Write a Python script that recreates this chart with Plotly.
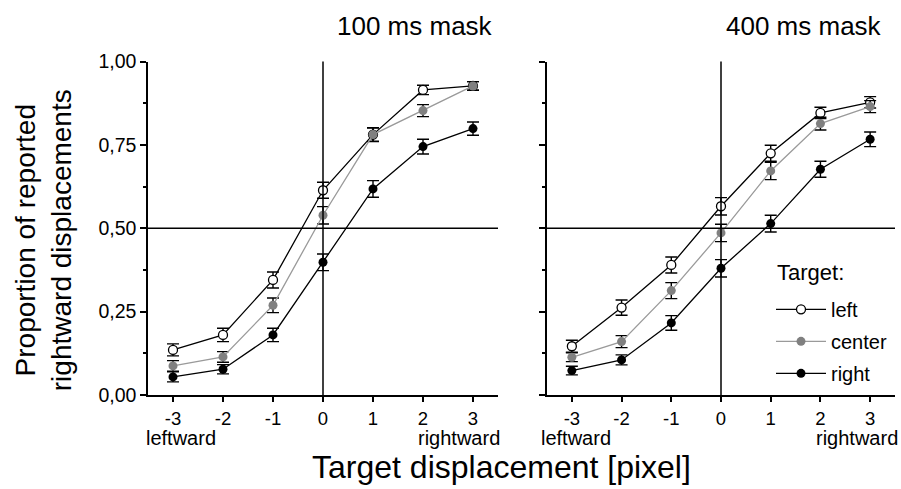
import plotly.graph_objects as go

# ---------------- data ----------------
x_disp = [-3, -2, -1, 0, 1, 2, 3]
x_ticktext = ["-3", "-2", "-1", "0", "1", "2", "3"]

# 100 ms mask
m100_left = [0.135, 0.180, 0.345, 0.614, 0.781, 0.915, 0.927]
m100_left_err = [0.018, 0.020, 0.024, 0.024, 0.021, 0.014, 0.013]
m100_center = [0.087, 0.114, 0.269, 0.539, 0.781, 0.853, 0.927]
m100_center_err = [0.016, 0.016, 0.022, 0.026, 0.020, 0.018, 0.013]
m100_right = [0.054, 0.077, 0.180, 0.398, 0.618, 0.745, 0.799]
m100_right_err = [0.015, 0.014, 0.020, 0.025, 0.025, 0.022, 0.020]

# 400 ms mask
m400_left = [0.146, 0.262, 0.390, 0.566, 0.725, 0.846, 0.878]
m400_left_err = [0.018, 0.023, 0.024, 0.026, 0.024, 0.017, 0.017]
m400_center = [0.113, 0.160, 0.313, 0.486, 0.672, 0.814, 0.865]
m400_center_err = [0.013, 0.018, 0.024, 0.026, 0.026, 0.019, 0.018]
m400_right = [0.073, 0.105, 0.216, 0.380, 0.514, 0.677, 0.767]
m400_right_err = [0.013, 0.015, 0.022, 0.026, 0.025, 0.024, 0.022]

y_tickvals = [0, 0.25, 0.5, 0.75, 1.0]
y_ticktext = ["0,00", "0,25", "0,50", "0,75", "1,00"]
y_minorvals = [0.125, 0.375, 0.625, 0.875]
panel_titles = ["100 ms mask", "400 ms mask"]
series_names = ["left", "center", "right"]

# ---------------- styling ----------------
W, H = 901, 489
FONT = "Liberation Sans, Arial, sans-serif"
styles = {
    "left": dict(line=dict(color="black", width=1.3),
                 marker=dict(symbol="circle", size=9, color="white",
                             line=dict(color="black", width=1.3))),
    "center": dict(line=dict(color="#9a9a9a", width=1.3),
                   marker=dict(symbol="circle", size=9, color="#808080",
                               line=dict(color="#808080", width=0))),
    "right": dict(line=dict(color="black", width=1.3),
                  marker=dict(symbol="circle", size=9, color="black",
                              line=dict(color="black", width=0))),
}

fig = go.Figure()

panels = [
    ("x", "y", [m100_left, m100_center, m100_right],
     [m100_left_err, m100_center_err, m100_right_err], False),
    ("x2", "y2", [m400_left, m400_center, m400_right],
     [m400_left_err, m400_center_err, m400_right_err], True),
]
for xa, ya, ys, errs, show in panels:
    for name, yv, ev in zip(series_names, ys, errs):
        fig.add_trace(go.Scatter(
            x=x_disp, y=yv, mode="lines+markers", name=name,
            xaxis=xa, yaxis=ya, showlegend=show, legendgroup=name,
            error_y=dict(type="data", array=ev, visible=True,
                         color="black", thickness=1.4, width=6),
            **styles[name]))


def px_x(p):
    return p / W


def px_y(p):
    return 1 - p / H


ydom = [px_y(402), px_y(53)]
xdom1 = [px_x(148), px_x(498)]
xdom2 = [px_x(547), px_x(895)]

axis_line = dict(showline=True, linecolor="black", linewidth=1.5,
                 showgrid=False, zeroline=False)
xcommon = dict(range=[-3.5, 3.5], tickvals=x_disp, ticktext=x_ticktext,
               ticks="outside", ticklen=5, tickwidth=1.5, tickcolor="black",
               ticklabelstandoff=1,
               tickfont=dict(family=FONT, size=18.5, color="black"),
               **axis_line)
ycommon = dict(range=[0, 1], tickvals=y_tickvals, ticktext=y_ticktext,
               ticks="outside", ticklen=6, tickwidth=1.5, tickcolor="black",
               minor=dict(tickvals=y_minorvals, ticks="outside", ticklen=3,
                          tickwidth=1.5, tickcolor="black"),
               tickfont=dict(family=FONT, size=19.5, color="black"),
               **axis_line)
xtop = dict(range=[-3.5, 3.5], tickvals=x_disp, ticks="inside", ticklen=6,
            tickwidth=1.5, tickcolor="black", showticklabels=False,
            side="top", **axis_line)
yright = dict(range=[0, 1], tickvals=sorted(y_tickvals + y_minorvals),
              ticks="inside", ticklen=5, tickwidth=1.5, tickcolor="black",
              showticklabels=False, side="right", **axis_line)

fig.update_layout(
    width=W, height=H,
    margin=dict(l=0, r=0, t=0, b=0),
    paper_bgcolor="white", plot_bgcolor="white",
    font=dict(family=FONT, color="black"),
    xaxis=dict(domain=xdom1, anchor="y", **xcommon),
    yaxis=dict(domain=ydom, anchor="x", **ycommon),
    xaxis2=dict(domain=xdom2, anchor="y2", **xcommon),
    yaxis2=dict(domain=ydom, anchor="x2", showticklabels=False, **ycommon),
    xaxis3=dict(overlaying="x", anchor="y", **xtop),
    yaxis3=dict(overlaying="y", anchor="x", **yright),
    xaxis4=dict(overlaying="x2", anchor="y2", **xtop),
    yaxis4=dict(overlaying="y2", anchor="x2", **yright),
    showlegend=True,
    legend=dict(x=px_x(771), y=px_y(292), xanchor="left", yanchor="top",
                bgcolor="rgba(0,0,0,0)", itemwidth=50,
                font=dict(family=FONT, size=20, color="black"),
                tracegroupgap=3),
)

# legend heading
fig.add_annotation(text="Target:", xref="paper", yref="paper",
                   x=px_x(775), y=px_y(274), xanchor="left",
                   yanchor="middle", showarrow=False,
                   font=dict(family=FONT, size=22))

# reference lines at chance level and zero displacement
for xr, yr in [("x", "y"), ("x2", "y2")]:
    fig.add_shape(type="line", xref=f"{xr} domain", yref=yr, x0=0, x1=1,
                  y0=0.5, y1=0.5, line=dict(color="black", width=1.3))
    fig.add_shape(type="line", xref=xr, yref=f"{yr} domain", x0=0, x1=0,
                  y0=0, y1=1, line=dict(color="black", width=1.5))

# panel titles
fig.add_annotation(text=panel_titles[0], xref="paper", yref="paper",
                   x=px_x(495), y=px_y(16), xanchor="right", yanchor="middle",
                   showarrow=False, font=dict(family=FONT, size=26))
fig.add_annotation(text=panel_titles[1], xref="paper", yref="paper",
                   x=px_x(884), y=px_y(16), xanchor="right", yanchor="middle",
                   showarrow=False, font=dict(family=FONT, size=26))

# direction labels
for xl, xrr in [(145, 501), (540, 899)]:
    fig.add_annotation(text="leftward", xref="paper", yref="paper",
                       x=px_x(xl), y=px_y(447), xanchor="left",
                       yanchor="middle", showarrow=False, borderpad=0,
                       font=dict(family=FONT, size=20))
    fig.add_annotation(text="rightward", xref="paper", yref="paper",
                       x=px_x(xrr), y=px_y(447), xanchor="right",
                       yanchor="middle", showarrow=False, borderpad=0,
                       font=dict(family=FONT, size=20))

# axis titles
fig.add_annotation(text="Target displacement [pixel]", xref="paper",
                   yref="paper", x=px_x(501), y=px_y(478), xanchor="center",
                   yanchor="middle", showarrow=False, borderpad=0,
                   font=dict(family=FONT, size=32))
fig.add_annotation(text="Proportion of reported<br>rightward displacements",
                   xref="paper", yref="paper", x=px_x(43), y=px_y(240),
                   xanchor="center", yanchor="middle", textangle=-90,
                   showarrow=False, font=dict(family=FONT, size=28))

fig.write_html("out.html")
